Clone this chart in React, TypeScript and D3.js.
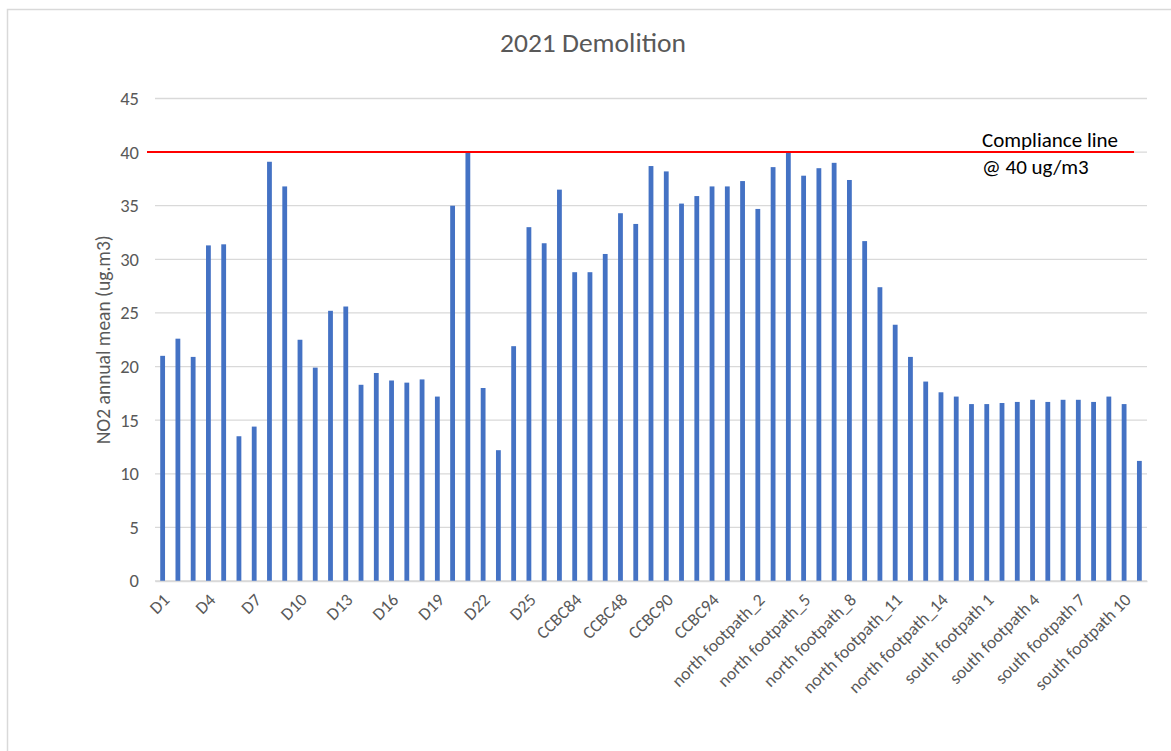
import React, { useEffect, useRef } from "react";
import * as d3 from "d3";

const title = "2021 Demolition";
const yLabel = "NO2 annual mean (ug.m3)";
const complianceLevel = 40;
const complianceText = ["Compliance line", "@ 40 ug/m3"];
const yTicks = [0, 5, 10, 15, 20, 25, 30, 35, 40, 45];

const dSites = d3.range(1, 26).map((i) => `D${i}`);
const dValues = [
  21.0, 22.6, 20.9, 31.3, 31.4, 13.5, 14.4, 39.1, 36.8, 22.5, 19.9, 25.2, 25.6,
  18.3, 19.4, 18.7, 18.5, 18.8, 17.2, 35.0, 40.0, 18.0, 12.2, 21.9, 33.0,
];

const ccbcSites = [
  "CCBC82", "CCBC83", "CCBC84", "CCBC85", "CCBC47", "CCBC48", "CCBC88",
  "CCBC89", "CCBC90", "CCBC92", "CCBC93", "CCBC94", "CCBC95",
];
const ccbcValues = [31.5, 36.5, 28.8, 28.8, 30.5, 34.3, 33.3, 38.7, 38.2, 35.2, 35.9, 36.8, 36.8];

const northSites = d3.range(1, 17).map((i) => `north footpath_${i}`);
const northValues = [
  37.3, 34.7, 38.6, 40.1, 37.8, 38.5, 39.0, 37.4, 31.7, 27.4, 23.9, 20.9, 18.6,
  17.6, 17.2, 16.5,
];

const southSites = d3.range(1, 12).map((i) => `south footpath ${i}`);
const southValues = [16.5, 16.6, 16.7, 16.9, 16.7, 16.9, 16.9, 16.7, 17.2, 16.5, 11.2];

const categories = [...dSites, ...ccbcSites, ...northSites, ...southSites];
const values = [...dValues, ...ccbcValues, ...northValues, ...southValues];

const W = 1171;
const H = 751;
const FONT = "Carlito, Lato, 'Open Sans', sans-serif";

export default function App() {
  const svgRef = useRef<SVGSVGElement>(null);

  useEffect(() => {
    if (!svgRef.current) return;
    const svg = d3.select(svgRef.current);
    svg.selectAll("*").remove();

    const margin = { top: 98.5, right: 24, bottom: 170, left: 155 };
    const x = d3
      .scaleBand<string>()
      .domain(categories)
      .range([margin.left, W - margin.right])
      .paddingInner(0.685)
      .paddingOuter(0.3425);
    const y = d3.scaleLinear().domain([0, 45]).range([H - margin.bottom, margin.top]);

    // outer chart border
    svg
      .append("rect")
      .attr("x", 7.5)
      .attr("y", 9.5)
      .attr("width", W + 20)
      .attr("height", H + 20)
      .attr("fill", "none")
      .attr("stroke", "#d9d9d9")
      .attr("stroke-width", 1.5);

    svg
      .append("text")
      .attr("x", 593)
      .attr("y", 52)
      .attr("text-anchor", "middle")
      .attr("font-family", FONT)
      .attr("font-size", 27.5)
      .attr("fill", "#595959")
      .text(title);

    // gridlines
    svg
      .append("g")
      .selectAll("line")
      .data(yTicks)
      .join("line")
      .attr("x1", margin.left)
      .attr("x2", W - margin.right)
      .attr("y1", (d) => y(d))
      .attr("y2", (d) => y(d))
      .attr("stroke", "#d9d9d9")
      .attr("stroke-width", 1.3);

    // y tick labels
    svg
      .append("g")
      .selectAll("text")
      .data(yTicks)
      .join("text")
      .attr("x", margin.left - 16)
      .attr("y", (d) => y(d))
      .attr("dy", "0.35em")
      .attr("text-anchor", "end")
      .attr("font-family", FONT)
      .attr("font-size", 18.5)
      .attr("fill", "#595959")
      .text((d) => d);

    svg
      .append("text")
      .attr("transform", `translate(110,${(y(0) + y(45)) / 2}) rotate(-90)`)
      .attr("text-anchor", "middle")
      .attr("font-family", FONT)
      .attr("font-size", 19.5)
      .attr("fill", "#595959")
      .text(yLabel);

    // bars
    svg
      .append("g")
      .selectAll("rect")
      .data(values)
      .join("rect")
      .attr("x", (_, i) => x(categories[i])!)
      .attr("width", x.bandwidth())
      .attr("y", (d) => y(d))
      .attr("height", (d) => y(0) - y(d))
      .attr("fill", "#4472C4");

    // x labels, every third category
    const xAxis = d3
      .axisBottom(x)
      .tickValues(categories.filter((_, i) => i % 3 === 0))
      .tickSize(0)
      .tickPadding(0);
    const gx = svg
      .append("g")
      .attr("transform", `translate(0,${y(0)})`)
      .call(xAxis as any);
    gx.select(".domain").attr("stroke", "#d9d9d9").attr("stroke-width", 1.3);
    gx.selectAll("text")
      .attr("font-family", FONT)
      .attr("font-size", 17.5)
      .attr("fill", "#595959")
      .attr("text-anchor", "end")
      .attr("dy", 0)
      .attr("y", 0)
      .attr("transform", "translate(8,20) rotate(-45)");

    // compliance line
    svg
      .append("line")
      .attr("x1", margin.left - 8)
      .attr("x2", W - margin.right - 13)
      .attr("y1", y(complianceLevel))
      .attr("y2", y(complianceLevel))
      .attr("stroke", "#FF0000")
      .attr("stroke-width", 2);

    svg
      .append("g")
      .selectAll("text")
      .data(complianceText)
      .join("text")
      .attr("x", 982)
      .attr("y", (_, i) => 147 + i * 27)
      .attr("font-family", FONT)
      .attr("font-size", 21)
      .attr("fill", "#000")
      .text((d) => d);
  }, []);

  return (
    <svg
      ref={svgRef}
      width={W}
      height={H}
      style={{ position: "absolute", left: 0, top: 0, background: "#fff" }}
    />
  );
}
